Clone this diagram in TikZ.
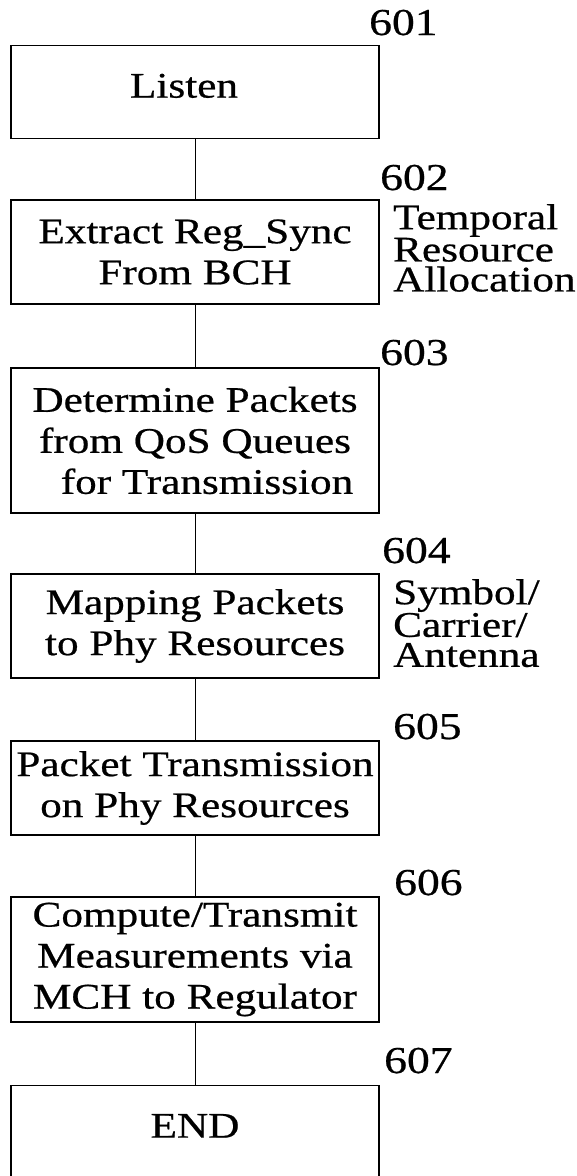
\documentclass[tikz,border=0pt]{standalone}
\usepackage{fontspec}
\setmainfont{Liberation Serif}[FakeStretch=1.2, FakeBold=0.6]
\begin{document}
\begin{tikzpicture}[x=1pt,y=-1pt,
    stepbox/.style={draw, line width=1.2pt, inner sep=0pt, align=center,
        minimum width=368pt, font=\fontsize{36}{41}\selectfont},
    refnum/.style={anchor=base west, inner sep=0pt, font=\fontsize{38}{38}\selectfont},
    sidenote/.style={anchor=north west, inner sep=0pt, align=left,
        font=\fontsize{36}{30}\selectfont}]
    \useasboundingbox (0,0) rectangle (576,1176);

    % boxes
    \node[stepbox, anchor=north, text height=52pt, text depth=41pt] (listen) at (195,45) {\hspace*{-22pt}Listen};
    \node[stepbox, minimum height=104pt] (extract) at (195,252) {Extract Reg\_Sync\\From BCH};
    \node[stepbox, minimum height=145pt] (determine) at (195,440.5) {Determine Packets\\from QoS Queues\\\hspace*{24pt}for Transmission};
    \node[stepbox, minimum height=104pt] (mapping) at (195,626) {Mapping Packets\\to Phy Resources};
    \node[stepbox, minimum height=94pt] (transmit) at (195,788) {Packet Transmission\\on Phy Resources};
    \node[stepbox, minimum height=125pt] (measure) at (195,959.5) {Compute/Transmit\\Measurements via\\MCH to Regulator};
    \node[stepbox, anchor=north, text height=52pt, text depth=60pt] (finish) at (195,1085) {END};

    % links
    \draw[line width=1pt] (listen) -- (extract);
    \draw[line width=1pt] (extract) -- (determine);
    \draw[line width=1pt] (determine) -- (mapping);
    \draw[line width=1pt] (mapping) -- (transmit);
    \draw[line width=1pt] (transmit) -- (measure);
    \draw[line width=1pt] (measure) -- (finish);

    % reference numbers
    \node[refnum] (n601) at (369,35) {601};
    \node[refnum] (n602) at (380,190) {602};
    \node[refnum] (n603) at (380,365) {603};
    \node[refnum] (n604) at (382,563) {604};
    \node[refnum] (n605) at (393,739) {605};
    \node[refnum] (n606) at (394,895) {606};
    \node[refnum] (n607) at (384,1073) {607};

    % side notes
    \node[sidenote] (temporal) at (393,204) {Temporal\\Resource\\Allocation};
    \node[sidenote] (antenna) at (393,579) {Symbol/\\Carrier/\\Antenna};

\end{tikzpicture}
\end{document}
